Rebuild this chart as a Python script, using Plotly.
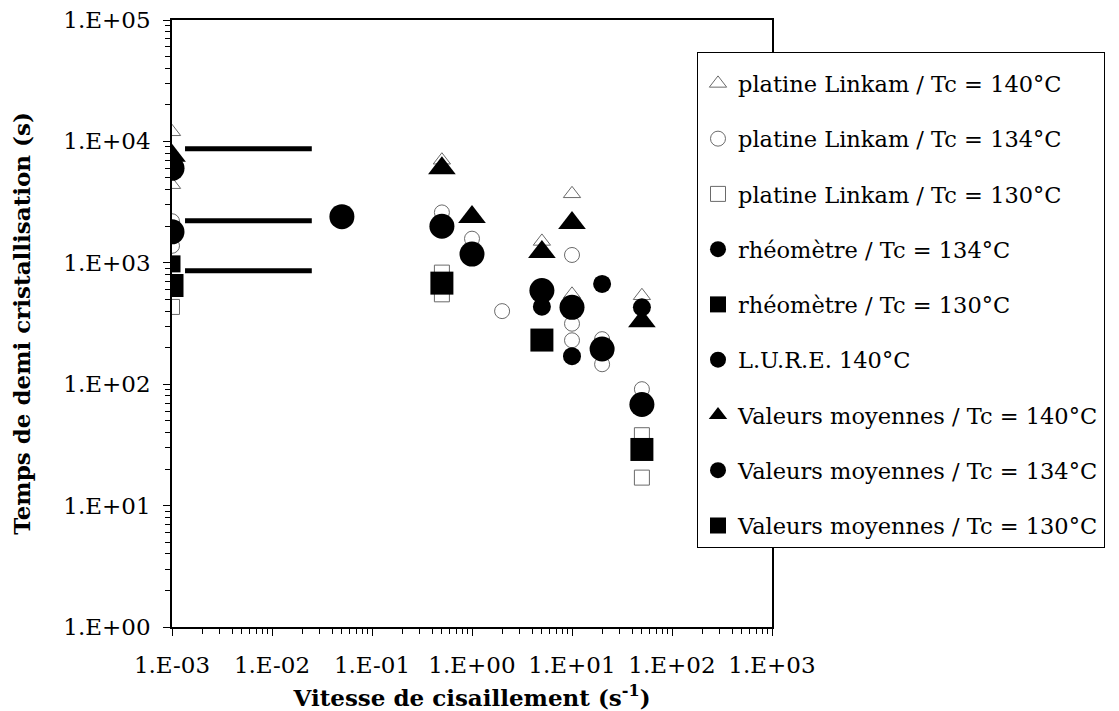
import plotly.graph_objects as go

# --- data (x: shear rate s^-1, y: half-crystallisation time s) ---
LINKAM_140_X = [1e-3, 1e-3, 0.5, 5, 10, 10, 50]
LINKAM_140_Y = [12000, 4400, 7000, 1500, 3700, 550, 535]

LINKAM_134_X = [1e-3, 1e-3, 0.5, 1, 2, 10, 10, 10, 20, 20, 50]
LINKAM_134_Y = [2200, 1380, 2600, 1580, 400, 1160, 315, 230, 235, 146, 91]

LINKAM_130_X = [1e-3, 0.5, 0.5, 50, 50]
LINKAM_130_Y = [433, 830, 550, 38, 17]

RHEO_134_X = [5, 10, 20, 50]
RHEO_134_Y = [435, 170, 670, 430]

RHEO_130_X = [1e-3]
RHEO_130_Y = [980]

LURE_140_X = [1e-3, 0.05]
LURE_140_Y = [6000, 2400]

MEAN_140_X = [1e-3, 0.5, 1, 5, 10, 50]
MEAN_140_Y = [7600, 6000, 2380, 1230, 2130, 330]

MEAN_134_X = [1e-3, 0.5, 1, 5, 10, 20, 50]
MEAN_134_Y = [1800, 2000, 1180, 590, 430, 195, 68]

MEAN_130_X = [1e-3, 0.5, 5, 50]
MEAN_130_Y = [650, 680, 231, 29]

# quiescent reference levels (horizontal bars)
BAR_X0 = 1.35e-3
BAR_X1 = 0.025
BAR_Y = [8700, 2220, 860]

TICK_EXP_X = [-3, -2, -1, 0, 1, 2, 3]
TICK_EXP_Y = [0, 1, 2, 3, 4, 5]

FONT = "DejaVu Serif, Liberation Serif, serif"
GREY = "#6a6a6a"


def sci(e):
    return f"1.E{'+' if e >= 0 else '-'}{abs(e):02d}"


series = [
    ("platine Linkam / Tc = 140°C", LINKAM_140_X, LINKAM_140_Y,
     dict(symbol="triangle-up-open", size=15, color=GREY, line=dict(width=1, color=GREY))),
    ("platine Linkam / Tc = 134°C", LINKAM_134_X, LINKAM_134_Y,
     dict(symbol="circle-open", size=15, color=GREY, line=dict(width=1, color=GREY))),
    ("platine Linkam / Tc = 130°C", LINKAM_130_X, LINKAM_130_Y,
     dict(symbol="square-open", size=15, color=GREY, line=dict(width=1, color=GREY))),
    ("rhéomètre / Tc = 134°C", RHEO_134_X, RHEO_134_Y,
     dict(symbol="circle", size=18, color="black")),
    ("rhéomètre / Tc = 130°C", RHEO_130_X, RHEO_130_Y,
     dict(symbol="square", size=17, color="black")),
    ("L.U.R.E. 140°C", LURE_140_X, LURE_140_Y,
     dict(symbol="circle", size=25, color="black")),
    ("Valeurs moyennes / Tc = 140°C", MEAN_140_X, MEAN_140_Y,
     dict(symbol="triangle-up", size=24, color="black")),
    ("Valeurs moyennes / Tc = 134°C", MEAN_134_X, MEAN_134_Y,
     dict(symbol="circle", size=25, color="black")),
    ("Valeurs moyennes / Tc = 130°C", MEAN_130_X, MEAN_130_Y,
     dict(symbol="square", size=23, color="black")),
]

fig = go.Figure()

for y in BAR_Y:
    fig.add_trace(go.Scatter(x=[BAR_X0, BAR_X1], y=[y, y], mode="lines",
                             line=dict(color="black", width=5),
                             showlegend=False, hoverinfo="skip"))

for i, (name, xs, ys, mk) in enumerate(series):
    fig.add_trace(go.Scatter(x=xs, y=ys, mode="markers", name=name,
                             marker=mk, legendgroup=str(i)))

axis_common = dict(
    type="log", showgrid=False, zeroline=False, automargin=False,
    showline=True, linecolor="black", linewidth=1.5, mirror=True,
    ticks="outside", ticklen=7, tickwidth=1.2, tickcolor="black",
    tickfont=dict(family=FONT, size=23, color="black"),
    ticklabeloverflow="allow",
    minor=dict(ticks="outside", ticklen=5, tickwidth=1, tickcolor="black",
               dtick="D1", showgrid=False),
)

fig.update_xaxes(
    **axis_common,
    range=[-3, 3],
    tickvals=[10 ** e for e in TICK_EXP_X],
    ticktext=[sci(e) for e in TICK_EXP_X],
    ticklabelstandoff=10,
    title=dict(text="<b>Vitesse de cisaillement (s<sup>-1</sup>)</b>",
               font=dict(family=FONT, size=23, color="black"), standoff=24),
)
fig.update_yaxes(
    **axis_common,
    range=[0, 5],
    tickvals=[10 ** e for e in TICK_EXP_Y],
    ticktext=[sci(e) for e in TICK_EXP_Y],
    ticklabelstandoff=8,
    title=dict(text="<b>Temps de demi cristallisation (s)</b>",
               font=dict(family=FONT, size=23, color="black"), standoff=28),
)

# the page body has an 8 px margin, so the figure is drawn 8 px in from the corner
fig.update_layout(
    width=1111, height=703,
    paper_bgcolor="white", plot_bgcolor="white",
    margin=dict(l=164, r=347, t=12, b=84),
    font=dict(family=FONT, color="black"),
    legend=dict(
        x=0.875, y=0.947, xanchor="left", yanchor="top",
        bgcolor="white", bordercolor="black", borderwidth=1,
        font=dict(family=FONT, size=22.5, color="black"),
        title=dict(text="&nbsp;", font=dict(size=7)),
        traceorder="grouped", tracegroupgap=23,
        itemwidth=30,
    ),
)

fig.write_html("out.html")
